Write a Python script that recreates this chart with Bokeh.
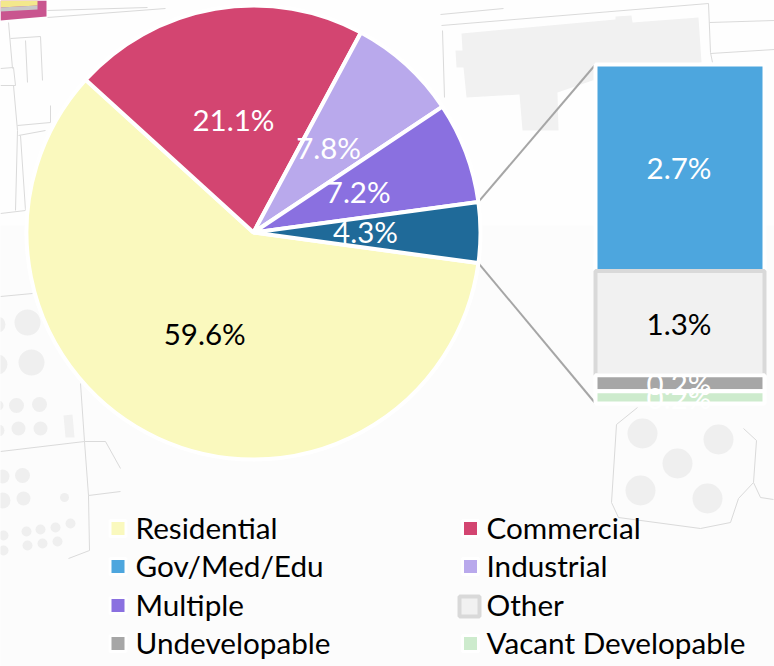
import math
from bokeh.plotting import figure
from bokeh.models import Range1d
from bokeh.embed import file_html
from bokeh.resources import INLINE
from bokeh.core.properties import value

# --- data ---
pie_labels = ["Residential", "Commercial", "Industrial", "Multiple", "Rest"]
pie_values = [59.6, 21.1, 7.8, 7.2, 4.3]
pie_colors = ["#FAF9BE", "#D34571", "#B9A9EC", "#8A70E0", "#1F6A99"]
pie_text = ["#000000", "#FFFFFF", "#FFFFFF", "#FFFFFF", "#FFFFFF"]

bar_labels = ["Gov/Med/Edu", "Other", "Undevelopable", "Vacant Developable"]
bar_values = [2.7, 1.36, 0.21, 0.16]
bar_shown = ["2.7%", "1.3%", "0.2%", "0.2%"]
bar_colors = ["#4DA6DE", "#F1F1F1", "#A6A6A6", "#CDEBCD"]
bar_text = ["#FFFFFF", "#000000", "#FFFFFF", "#FFFFFF"]

legend_names = ["Residential", "Commercial", "Gov/Med/Edu", "Industrial",
                "Multiple", "Other", "Undevelopable", "Vacant Developable"]
legend_colors = ["#FAF9BE", "#D34571", "#4DA6DE", "#B9A9EC",
                 "#8A70E0", "#F1F1F1", "#A6A6A6", "#CDEBCD"]

# faint map behind the chart (x, y, radius in picture pixels)
map_circles = [(642, 433, 15), (718, 439, 15), (677, 463, 15), (640, 490, 15), (707, 498, 15),
               (27, 322, 13), (31, 362, 13), (-3, 324, 8), (-3, 364, 10),
               (16, 405, 7.5), (39, 404, 7.5), (18, 428, 7), (40, 428, 7), (-2, 405, 5), (-2, 430, 6),
               (22, 475, 7.5), (2, 476, 7), (23, 498, 7), (2, 500, 8), (64, 497, 4.5),
               (26, 531, 5), (40, 529, 5), (55, 527, 5), (70, 523, 5),
               (27, 545, 5), (42, 543, 5), (57, 541, 5), (3, 535, 5), (3, 550, 5)]
map_patches = [
    [(461, 33), (615, 19), (615, 16), (631, 15), (632, 22), (698, 17), (701, 62), (592, 80),
     (557, 92), (558, 130), (522, 130), (519, 94),
     (466, 97), (463, 67), (456, 67), (455, 50), (462, 50)],
    [(63, 415), (72, 414), (74, 437), (65, 437)],
]
map_lines = [
    [(0, 296), (32, 293)], [(80, 383), (84, 441), (88, 495), (89, 550), (68, 558)],
    [(84, 441), (0, 451)], [(84, 441), (105, 441), (120, 468)], [(88, 495), (120, 491)],
    [(440, 14), (503, 8)], [(441, 25), (708, 3)], [(708, 3), (710, 52), (712, 62)],
    [(709, 22), (774, 20)], [(710, 53), (774, 49)], [(442, 30), (444, 97)],
    [(637, 407), (616, 424), (611, 502), (618, 517), (700, 528), (730, 522), (738, 498),
     (753, 482), (756, 440), (743, 428)],
    [(753, 482), (760, 497), (773, 499)],
    [(47, 10), (147, 7)], [(47, 17), (165, 8)], [(8, 22), (12, 68)], [(10, 38), (40, 36), (42, 80)],
    [(25, 40), (27, 82)], [(0, 68), (13, 67), (15, 85), (0, 85)], [(13, 85), (17, 130), (15, 210)],
    [(17, 125), (50, 122), (50, 105)], [(18, 135), (45, 130)], [(20, 135), (25, 210), (0, 213)],
]
block_pink = [(0, 0), (46, 0), (46, 16), (0, 20)]
block_grey = [(0, 7), (37, 5), (37, 9), (0, 11)]
block_yellow = [(0, 0), (37, 0), (37, 5), (0, 7)]

H = 666
def Y(v):
    return H - v

FONT = "Lato"
FS = "29.5px"
p = figure(width=774, height=666, output_backend="svg", toolbar_location=None,
           x_range=Range1d(0, 774), y_range=Range1d(0, 666),
           min_border=0, outline_line_color=None, background_fill_color="#FEFEFE")
p.axis.visible = False
p.grid.visible = False

# --- faint background map ---
p.quad(left=[0], right=[774], top=[Y(225)], bottom=[Y(666)], color="#FCFCFC", line_color=None)
for poly in map_patches:
    p.patch([q[0] for q in poly], [Y(q[1]) for q in poly], color="#F1F1F1", line_color=None)
p.circle(x=[c[0] for c in map_circles], y=[Y(c[1]) for c in map_circles],
         radius=[c[2] for c in map_circles], color="#EFEFEF", line_color=None)
for ln in map_lines:
    p.line([q[0] for q in ln], [Y(q[1]) for q in ln], line_color="#DADADA", line_width=1)
for poly, col in [(block_pink, "#C9558F"), (block_yellow, "#F3E88C"), (block_grey, "#C8C8C8")]:
    p.patch([q[0] for q in poly], [Y(q[1]) for q in poly], color=col, line_color=None)

# --- pie ---
CX, CY, R = 253, Y(232), 227
total = sum(pie_values)
a = math.radians(137.7)
# Residential runs anticlockwise from 137.7 deg; the others clockwise from there
res = 2 * math.pi * pie_values[0] / total
wedge_start = [a]
wedge_end = [a + res]
cur = a
for v in pie_values[1:]:
    nxt = cur - 2 * math.pi * v / total
    wedge_start.append(nxt)
    wedge_end.append(cur)
    cur = nxt

# connector lines from the small slice to the bar
rest_a0, rest_a1 = wedge_start[-1], wedge_end[-1]
BAR_L, BAR_R, BAR_TOP, BAR_BOT = 595, 764, Y(64), Y(403)
p.line([CX + R * math.cos(rest_a1), BAR_L], [CY + R * math.sin(rest_a1), BAR_TOP],
       line_color="#A6A6A6", line_width=2)
p.line([CX + R * math.cos(rest_a0), BAR_L], [CY + R * math.sin(rest_a0), BAR_BOT],
       line_color="#A6A6A6", line_width=2)

p.wedge(x=CX, y=CY, radius=R, start_angle=wedge_start, end_angle=wedge_end,
        fill_color=pie_colors, line_color="#FFFFFF", line_width=4)

LR = 113
TEXT_SHIFT = 1.5
for s, e, v, c in zip(wedge_start, wedge_end, pie_values, pie_text):
    m = (s + e) / 2
    p.text(x=[CX + LR * math.cos(m) - 1], y=[CY + LR * math.sin(m) + TEXT_SHIFT], text=[f"{v:.1f}%"],
           text_color=c, text_font=value(FONT), text_font_size=FS,
           text_align="center", text_baseline="middle")

# --- stacked bar, on its own value range ---
tot = sum(bar_values)
p.extra_y_ranges["bar"] = Range1d(-tot * BAR_BOT / (BAR_TOP - BAR_BOT),
                                  tot * (666 - BAR_BOT) / (BAR_TOP - BAR_BOT))
tops, bots, c = [], [], tot
for v in bar_values:
    tops.append(c)
    bots.append(c - v)
    c -= v
line_cols = ["#FFFFFF", "#D9D9D9", "#FFFFFF", "#FFFFFF"]
line_ws = [4, 4, 4, 4]
for i in range(4):
    p.quad(left=[BAR_L], right=[BAR_R], top=[tops[i]], bottom=[bots[i]],
           fill_color=bar_colors[i], line_color=line_cols[i], line_width=line_ws[i],
           y_range_name="bar")
for i in range(4):
    p.text(x=[(BAR_L + BAR_R) / 2 - 1], y=[(tops[i] + bots[i]) / 2], text=[bar_shown[i]],
           text_color=bar_text[i], text_font=value(FONT), text_font_size=FS,
           text_align="center", text_baseline="middle", y_range_name="bar")

# --- legend ---
col_box = [117.5, 470]
col_text = [135, 486]
rows = [528, 566, 605, 643]
for i, (n, col) in enumerate(zip(legend_names, legend_colors)):
    cx, r = i % 2, rows[i // 2]
    if n == "Other":
        p.rect(x=[col_box[cx] - 1], y=[Y(r) - 1], width=20, height=20, fill_color=col,
               line_color="#D9D9D9", line_width=4)
    else:
        p.rect(x=[col_box[cx]], y=[Y(r)], width=16, height=16, fill_color=col,
               line_color="#FFFFFF", line_width=3)
    p.text(x=[col_text[cx]], y=[Y(r) + 1], text=[n], text_color="#000000",
           text_font=value(FONT), text_font_size="29.7px",
           text_align="left", text_baseline="middle")

open("out.html", "w").write(file_html(p, INLINE))
